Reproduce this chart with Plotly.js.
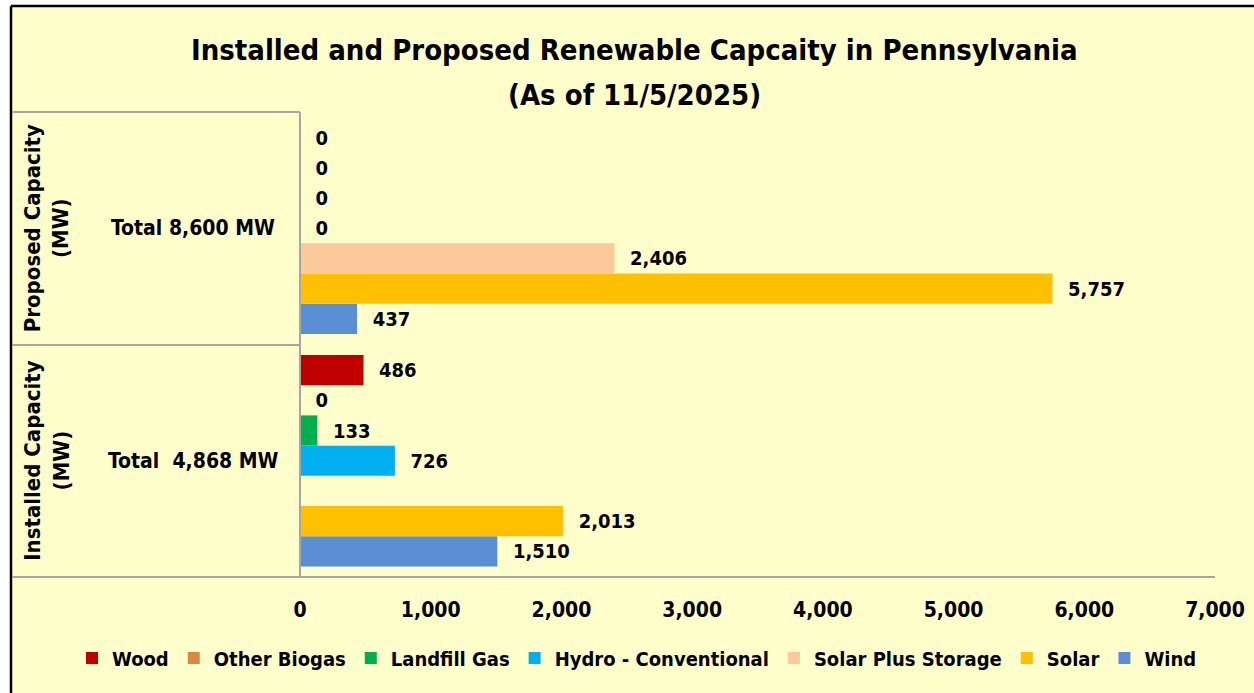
<!DOCTYPE html>
<html>
<head>
<meta charset="utf-8">
<script src="https://cdn.plot.ly/plotly-3.0.1.min.js"></script>
<style>
  html, body { margin: 0; padding: 0; background: #ffffff; overflow: hidden; }
  #chart { width: 1254px; height: 693px; }
</style>
</head>
<body>
<div id="chart"></div>
<script>
// ---- Data ----
const groups = ["Installed Capacity", "Proposed Capacity"];
const seriesNames = ["Wind", "Solar", "Solar Plus Storage", "Hydro - Conventional", "Landfill Gas", "Other Biogas", "Wood"];
const seriesColors = ["#5A8FD5", "#FFC000", "#FCC99B", "#00B0F0", "#00B050", "#DC8743", "#C00000"];
// values per series: [Installed, Proposed]
const windVals = [1510, 437];
const solarVals = [2013, 5757];
const solarStorageVals = [null, 2406];
const hydroVals = [726, 0];
const landfillVals = [133, 0];
const biogasVals = [0, 0];
const woodVals = [486, 0];
const seriesValues = [windVals, solarVals, solarStorageVals, hydroVals, landfillVals, biogasVals, woodVals];
const groupLabels = ["Installed Capacity<br>(MW)", "Proposed Capacity<br>(MW)"];
const groupTotals = ["Total  4,868 MW", "Total 8,600 MW"];
const xTicks = [0, 1000, 2000, 3000, 4000, 5000, 6000, 7000];
const titleLine1 = "Installed and Proposed Renewable Capcaity in Pennsylvania";
const titleLine2 = "(As of 11/5/2025)";

// ---- Layout geometry ----
const W = 1254, H = 693;
const L = 300, R = 39, T = 112, B = 116;
const pw = W - L - R, ph = H - T - B;
const px = x => (x - L) / pw;
const py = y => (H - B - y) / ph;

const FAM = '"DejaVu Sans Condensed", "DejaVu Sans", Arial, sans-serif';
const F = size => ({ family: FAM, size: size, color: '#000000', weight: 'bold' });
const NB = '\u00a0\u00a0';

const traces = seriesNames.map((name, i) => ({
  type: 'bar',
  orientation: 'h',
  name: name,
  y: groups,
  x: seriesValues[i],
  marker: { color: seriesColors[i] },
  text: seriesValues[i].map(v => v === null ? '' : NB + v.toLocaleString('en-US')),
  textposition: 'outside',
  texttemplate: '%{text}',
  cliponaxis: false,
  textfont: F(20),
  hoverinfo: 'x+name'
}));

const lineColor = '#A6A6A6';
const shapes = [
  { type: 'rect', xref: 'paper', yref: 'paper', x0: px(-10), x1: px(1270), y0: py(6), y1: py(-10),
    fillcolor: '#ffffff', line: { width: 0 }, layer: 'below' },
  { type: 'rect', xref: 'paper', yref: 'paper', x0: px(-10), x1: px(11), y0: py(710), y1: py(-10),
    fillcolor: '#ffffff', line: { width: 0 }, layer: 'below' },
  { type: 'line', xref: 'paper', yref: 'paper', x0: px(11), x1: px(1270), y0: py(6), y1: py(6), line: { color: '#000000', width: 2.5 } },
  { type: 'line', xref: 'paper', yref: 'paper', x0: px(11), x1: px(11), y0: py(6), y1: py(710), line: { color: '#000000', width: 2.5 } },
  { type: 'line', xref: 'paper', yref: 'paper', x0: px(12), x1: px(300), y0: py(112), y1: py(112), line: { color: lineColor, width: 2 } },
  { type: 'line', xref: 'paper', yref: 'paper', x0: px(12), x1: px(300), y0: py(345), y1: py(345), line: { color: lineColor, width: 2 } },
  { type: 'line', xref: 'paper', yref: 'paper', x0: px(12), x1: px(1215), y0: py(577), y1: py(577), line: { color: lineColor, width: 2 } },
  { type: 'line', xref: 'paper', yref: 'paper', x0: px(300), x1: px(300), y0: py(112), y1: py(577), line: { color: lineColor, width: 2 } }
];

const annotations = [
  { text: titleLine1, xref: 'paper', yref: 'paper', x: px(634), y: py(50), showarrow: false,
    xanchor: 'center', yanchor: 'middle', font: F(29) },
  { text: titleLine2, xref: 'paper', yref: 'paper', x: px(634), y: py(95), showarrow: false,
    xanchor: 'center', yanchor: 'middle', font: F(29) }
];
groups.forEach((g, i) => {
  annotations.push({ text: groupLabels[i], xref: 'paper', yref: 'y', x: px(47), y: g, showarrow: false,
    textangle: -90, xanchor: 'center', yanchor: 'middle', font: F(22) });
  annotations.push({ text: groupTotals[i], xref: 'paper', yref: 'y', x: px(193), y: g, showarrow: false,
    xanchor: 'center', yanchor: 'middle', font: F(21) });
});

const layout = {
  width: W, height: H,
  margin: { l: L, r: R, t: T, b: B, pad: 0 },
  paper_bgcolor: '#FFFFCC',
  plot_bgcolor: 'rgba(0,0,0,0)',
  barmode: 'group',
  bargap: 0.09,
  bargroupgap: 0,
  xaxis: {
    range: [0, 7000], tickvals: xTicks, ticktext: xTicks.map(v => v.toLocaleString('en-US')),
    showgrid: false, zeroline: false, showline: false,
    ticks: 'outside', ticklen: 14, tickcolor: 'rgba(0,0,0,0)',
    tickfont: F(21)
  },
  yaxis: {
    type: 'category', categoryorder: 'array', categoryarray: groups,
    range: [-0.5, 1.5],
    showticklabels: false, showgrid: false, zeroline: false, showline: false, ticks: ''
  },
  showlegend: true,
  legend: {
    orientation: 'h', traceorder: 'reversed',
    x: px(72), y: py(658), xanchor: 'left', yanchor: 'middle',
    bgcolor: 'rgba(0,0,0,0)',
    font: F(20),
    itemwidth: 30, tracegroupgap: 0
  },
  shapes: shapes,
  annotations: annotations
};

Plotly.newPlot('chart', traces, layout, { displayModeBar: false, staticPlot: true });
</script>
</body>
</html>
